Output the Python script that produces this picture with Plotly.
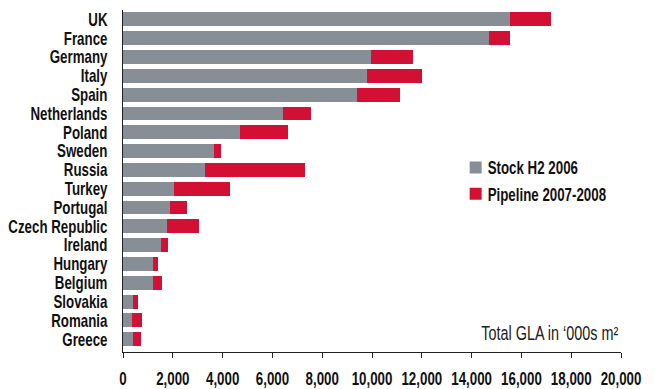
import plotly.graph_objects as go

# Retail gross leasable area by country ('000s m²)
countries = [
    "UK", "France", "Germany", "Italy", "Spain", "Netherlands", "Poland",
    "Sweden", "Russia", "Turkey", "Portugal", "Czech Republic", "Ireland",
    "Hungary", "Belgium", "Slovakia", "Romania", "Greece",
]
stock_h2_2006 = [
    15550, 14700, 9960, 9800, 9400, 6430, 4700,
    3650, 3290, 2050, 1890, 1770, 1530,
    1200, 1200, 400, 360, 400,
]
pipeline_2007_2008 = [
    1640, 840, 1690, 2210, 1720, 1120, 1930,
    290, 4020, 2250, 680, 1280, 280,
    210, 370, 200, 400, 320,
]
x_ticks = list(range(0, 20001, 2000))
x_tick_labels = [f"{v:,}" for v in x_ticks]

GREY = "#878e96"
RED = "#d31034"
FONT = "Liberation Sans, Arial, sans-serif"
FS = 18

fig = go.Figure()
fig.add_trace(go.Bar(
    y=countries, x=stock_h2_2006, orientation="h",
    name="<b>Stock H2 2006</b>", marker=dict(color=GREY, line=dict(width=0)),
    legendgroup="stock",
))
fig.add_trace(go.Bar(
    y=countries, x=pipeline_2007_2008, orientation="h",
    name="<b>Pipeline 2007-2008</b>", marker=dict(color=RED, line=dict(width=0)),
    legendgroup="pipeline",
))

fig.update_layout(
    width=655, height=389,
    margin=dict(l=123, r=34, t=10, b=37, autoexpand=False),
    barmode="stack", bargap=0.26,
    plot_bgcolor="white", paper_bgcolor="white",
    font=dict(family=FONT, size=FS, color="#111111"),
    showlegend=True,
    legend=dict(
        x=0.668, y=0.593, xanchor="left", yanchor="top",
        bgcolor="rgba(0,0,0,0)", traceorder="grouped", tracegroupgap=0,
        font=dict(family=FONT, size=FS, color="#111111"),
        itemwidth=30,
    ),
    xaxis=dict(
        range=[0, 20000], tickvals=x_ticks, ticktext=[f"<b>{t}</b>" for t in x_tick_labels],
        tickangle=0, automargin=False,
        showgrid=False, zeroline=False, showline=True, linecolor="#222222", linewidth=1,
        ticks="outside", ticklen=5, tickcolor="#222222", tickwidth=1,
        ticklabelstandoff=5, fixedrange=True,
    ),
    yaxis=dict(
        categoryorder="array", categoryarray=countries,
        range=[17.68, -0.5], automargin=False,
        tickvals=countries, ticktext=[f"<b>{c}</b>" for c in countries],
        showgrid=False, zeroline=False, showline=True, linecolor="#222222", linewidth=1,
        ticks="", ticklabelstandoff=11, fixedrange=True,
    ),
    annotations=[dict(
        text="Total GLA in ‘000s m²",
        xref="paper", yref="paper", x=0.999, y=0.056,
        xanchor="right", yanchor="middle", showarrow=False,
        font=dict(family=FONT, size=19.5, color="#222222"),
    )],
)

# Narrow-width lettering: squeeze the labels horizontally around their anchor side
narrow_css = """
var s = document.createElement('style');
s.textContent = [
  'g.ytick{transform-box:fill-box;transform-origin:right center;transform:scaleX(0.74);}',
  'g.xtick{transform-box:fill-box;transform-origin:center center;transform:scaleX(0.74);}',
  'text.legendtext{transform-box:fill-box;transform-origin:left center;transform:translateX(-8px) scaleX(0.74);}',
  'text.annotation-text{transform-box:fill-box;transform-origin:right center;transform:scaleX(0.74);}'
].join('');
document.head.appendChild(s);
"""

fig.write_html("out.html", post_script=narrow_css)
